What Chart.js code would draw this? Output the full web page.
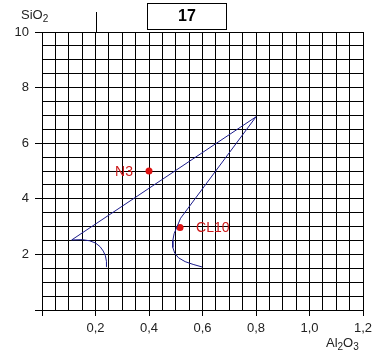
<!DOCTYPE html>
<html><head><meta charset="utf-8">
<script src="https://cdn.jsdelivr.net/npm/chart.js@4/dist/chart.umd.min.js"></script>
<style>html,body{margin:0;padding:0;background:#fff}canvas{display:block}</style>
</head><body>
<canvas id="c" width="387" height="363"></canvas>
<script>
// Trajectory line (Al2O3, SiO2)
const lineX = [0.242,0.241,0.237,0.229,0.217,0.200,0.178,0.150,0.111,0.800,0.518,0.505,0.494,0.489,0.489,0.496,0.510,0.535,0.565,0.598];
const lineY = [1.55, 1.75, 1.95, 2.12, 2.28, 2.41, 2.49, 2.53, 2.52, 6.95, 3.30, 3.00, 2.75, 2.50, 2.25, 2.05, 1.88, 1.74, 1.64, 1.55];
// Sample points
const sampleNames = ['N3','CL10'];
const sampleX = [0.40, 0.516];
const sampleY = [5.00, 2.97];
// Axes
const xMin = 0, xMax = 1.2, xGridStep = 0.05, xLabelStep = 0.2;
const yMin = 0, yMax = 10, yGridStep = 0.5, yLabelStep = 2;
const chartTitle = '17';

const isMult = (v, s) => Math.abs(v / s - Math.round(v / s)) < 1e-6;
const FONT = '"Liberation Sans", Arial, sans-serif';

const overlay = {
  id: 'overlay',
  afterDraw(chart) {
    const ctx = chart.ctx, a = chart.chartArea, xs = chart.scales.x;
    ctx.save();
    const px = Math.round(xs.getPixelForValue(0.2)) + 0.5;
    ctx.strokeStyle = '#000'; ctx.lineWidth = 1;
    ctx.beginPath(); ctx.moveTo(px, a.top - 20); ctx.lineTo(px, a.top); ctx.stroke();
    ctx.strokeRect(147.5, 3.5, 79, 26);
    ctx.fillStyle = '#000';
    ctx.font = 'bold 16px ' + FONT;
    ctx.textAlign = 'center'; ctx.textBaseline = 'middle';
    ctx.fillText(chartTitle, 187, 17);
    ctx.textAlign = 'left'; ctx.textBaseline = 'alphabetic';
    ctx.fillStyle = '#222';
    function sub(parts, x, y) {
      for (const [t, s] of parts) {
        ctx.font = (s ? '10px ' : '13px ') + FONT;
        ctx.fillText(t, x, y + (s ? 3 : 0));
        x += ctx.measureText(t).width;
      }
    }
    sub([['SiO', 0], ['2', 1]], 21, 19);
    sub([['Al', 0], ['2', 1], ['O', 0], ['3', 1]], 326, 347);
    const meta = chart.getDatasetMeta(1);
    ctx.fillStyle = '#cc1a1a';
    ctx.font = '14px ' + FONT;
    ctx.textBaseline = 'middle';
    meta.data.forEach((pt, i) => {
      if (i === 0) { ctx.textAlign = 'right'; ctx.fillText(sampleNames[i], pt.x - 16, pt.y + 1); }
      else { ctx.textAlign = 'left'; ctx.fillText(sampleNames[i], pt.x + 16, pt.y + 1); }
    });
    ctx.restore();
  }
};

new Chart(document.getElementById('c'), {
  type: 'scatter',
  data: {
    datasets: [
      { data: lineX.map((x, i) => ({x, y: lineY[i]})), showLine: true, borderColor: '#1c1c8c', borderWidth: 1, pointRadius: 0, tension: 0, fill: false },
      { data: sampleX.map((x, i) => ({x, y: sampleY[i]})), showLine: false, pointRadius: 3.5, pointBackgroundColor: '#dd1111', pointBorderColor: '#dd1111', pointBorderWidth: 0 }
    ]
  },
  options: {
    responsive: false, animation: false, devicePixelRatio: 1,
    layout: { padding: { left: 0, top: 32, right: 24, bottom: 0 } },
    plugins: { legend: { display: false }, tooltip: { enabled: false } },
    scales: {
      x: {
        type: 'linear', min: xMin, max: xMax,
        afterFit: s => { s.height = 53; },
        border: { display: true, color: '#000', width: 1 },
        grid: { color: '#000', lineWidth: 1, tickLength: 6,
          tickColor: c => isMult(c.tick.value, xLabelStep) ? '#000' : 'rgba(0,0,0,0)' },
        ticks: { stepSize: xGridStep, autoSkip: false, maxRotation: 0, padding: 5, color: '#222',
          font: { family: FONT, size: 13 },
          callback: v => (isMult(v, xLabelStep) && v > 1e-9) ? v.toFixed(1).replace('.', ',') : '' }
      },
      y: {
        type: 'linear', min: yMin, max: yMax,
        afterFit: s => { s.width = 42; },
        border: { display: true, color: '#000', width: 1 },
        grid: { color: '#000', lineWidth: 1, tickLength: 7,
          tickColor: c => isMult(c.tick.value, yLabelStep) ? '#000' : 'rgba(0,0,0,0)' },
        ticks: { stepSize: yGridStep, autoSkip: false, padding: 6, color: '#222',
          font: { family: FONT, size: 13 },
          callback: v => (isMult(v, yLabelStep) && v > 1e-9) ? String(Math.round(v)) : '' }
      }
    }
  },
  plugins: [overlay]
});
</script>
</body></html>
